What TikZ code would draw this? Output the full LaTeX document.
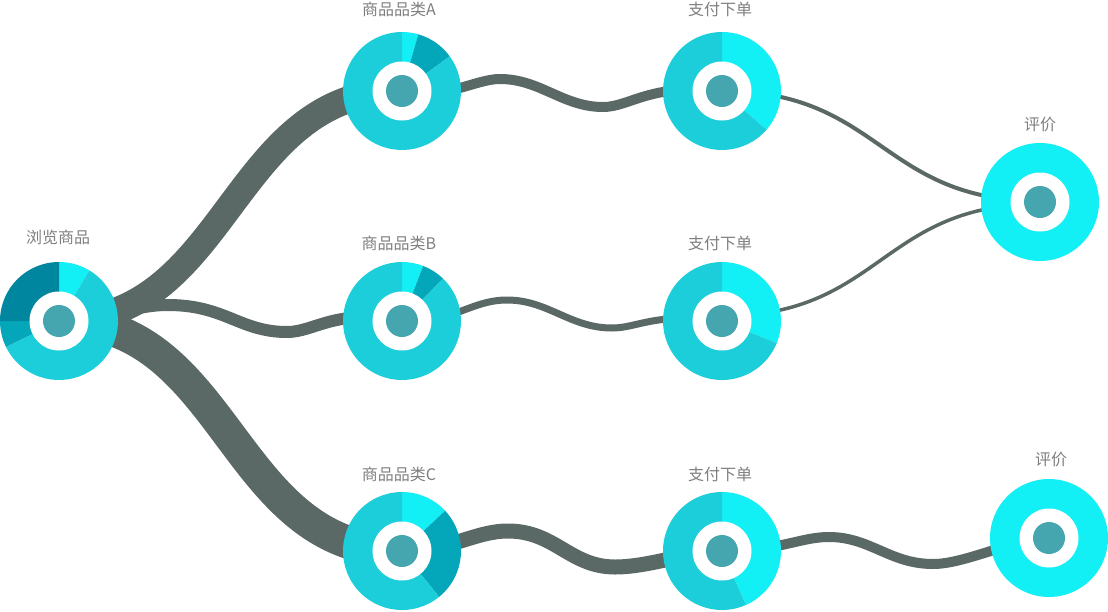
\documentclass[tikz,border=0pt]{standalone}
\usepackage{fontspec}
\setmainfont{Noto Sans CJK SC}
\definecolor{cBright}{HTML}{12EFF5}
\definecolor{cMain}{HTML}{1BCEDA}
\definecolor{cDark}{HTML}{04A6BA}
\definecolor{cDeep}{HTML}{00879F}
\definecolor{cCore}{HTML}{46A6B0}
\definecolor{cLink}{HTML}{5B6966}
\definecolor{cText}{HTML}{7F7F7F}
\newcommand\mypie[4]{\fill[#4] (#1) -- ++({#2-90}:59) arc[start angle={#2-90}, end angle={#3-90}, radius=59] -- cycle;}
\newcommand\mydonut[1]{\fill[white] (#1) circle[radius=29.5]; \fill[cCore] (#1) circle[radius=16];}
\tikzset{
  lbl/.style={text=cText, font=\fontsize{16}{16}\selectfont, inner sep=0pt},
  nd/.style={circle, minimum size=118pt, inner sep=0pt},
  lnk/.style={draw=cLink}
}
\begin{document}
\begin{tikzpicture}[x=1pt,y=-1pt]
\useasboundingbox (0,0) rectangle (1108,611);
% nodes (positions)
\node[nd] (browse) at (59,321) {};
\node[nd] (catA) at (402,91) {};
\node[nd] (catB) at (402,321) {};
\node[nd] (catC) at (402,551) {};
\node[nd] (payA) at (722,91) {};
\node[nd] (payB) at (722,321) {};
\node[nd] (payC) at (722,551) {};
\node[nd] (rateA) at (1040,202) {};
\node[nd] (rateC) at (1049,538) {};
% links
\draw[lnk, line width=27] (browse.center) .. controls (230,321) and (230,91) .. (catA.center);
\draw[lnk, line width=33] (browse.center) .. controls (230,321) and (230,551) .. (catC.center);
\draw[lnk, line width=12] (browse.center) .. controls (110,321) and (130,305) .. (168,305)
   .. controls (225,305) and (240,332) .. (287,332)
   .. controls (315,332) and (335,308) .. (catB.center);
\draw[lnk, line width=10] (catA.center) .. controls (450,99) and (475,79) .. (500,79)
   .. controls (540,79) and (563,107) .. (603,107)
   .. controls (630,107) and (650,83) .. (payA.center);
\draw[lnk, line width=7] (catB.center) .. controls (450,325) and (470,300) .. (507,300)
   .. controls (548,300) and (570,328) .. (612,328)
   .. controls (638,328) and (655,312) .. (payB.center);
\draw[lnk, line width=15] (catC.center) .. controls (450,551) and (475,531) .. (508,531)
   .. controls (555,531) and (570,567) .. (615,567)
   .. controls (650,567) and (690,551) .. (payC.center);
\draw[lnk, line width=10] (payC.center) .. controls (780,551) and (800,537) .. (829,537)
   .. controls (870,537) and (890,564) .. (933,564)
   .. controls (965,564) and (1010,540) .. (rateC.center);
\draw[lnk, line width=4] (payA.center) .. controls (881,91) and (881,201) .. ([yshift=1pt]rateA.center);
\draw[lnk, line width=3.5] ([yshift=5pt]payB.center) .. controls (881,316) and (881,204) .. ([yshift=-2pt]rateA.center);
% pies
\mypie{browse.center}{0}{31}{cBright}
\mypie{browse.center}{31}{244}{cMain}
\mypie{browse.center}{244}{270}{cDark}
\mypie{browse.center}{270}{360}{cDeep}
\mydonut{browse.center}
\mypie{catA.center}{0}{16}{cBright}
\mypie{catA.center}{16}{54}{cDark}
\mypie{catA.center}{54}{360}{cMain}
\mydonut{catA.center}
\mypie{catB.center}{0}{21}{cBright}
\mypie{catB.center}{21}{44}{cDark}
\mypie{catB.center}{44}{360}{cMain}
\mydonut{catB.center}
\mypie{catC.center}{0}{47}{cBright}
\mypie{catC.center}{47}{141}{cDark}
\mypie{catC.center}{141}{360}{cMain}
\mydonut{catC.center}
\mypie{payA.center}{0}{131}{cBright}
\mypie{payA.center}{131}{360}{cMain}
\mydonut{payA.center}
\mypie{payB.center}{0}{112}{cBright}
\mypie{payB.center}{112}{360}{cMain}
\mydonut{payB.center}
\mypie{payC.center}{0}{156}{cBright}
\mypie{payC.center}{156}{360}{cMain}
\mydonut{payC.center}
\fill[cBright] (rateA.center) circle[radius=59];
\mydonut{rateA.center}
\fill[cBright] (rateC.center) circle[radius=59];
\mydonut{rateC.center}
% labels
\node[lbl] (browseL) at (58,237) {浏览商品};
\node[lbl] (catAL) at (399,9) {商品品类A};
\node[lbl] (catBL) at (399,243) {商品品类B};
\node[lbl] (catCL) at (399,474) {商品品类C};
\node[lbl] (payAL) at (720,9) {支付下单};
\node[lbl] (payBL) at (720,243) {支付下单};
\node[lbl] (payCL) at (720,474) {支付下单};
\node[lbl] (rateAL) at (1040,124) {评价};
\node[lbl] (rateCL) at (1051,459) {评价};
\end{tikzpicture}
\end{document}
